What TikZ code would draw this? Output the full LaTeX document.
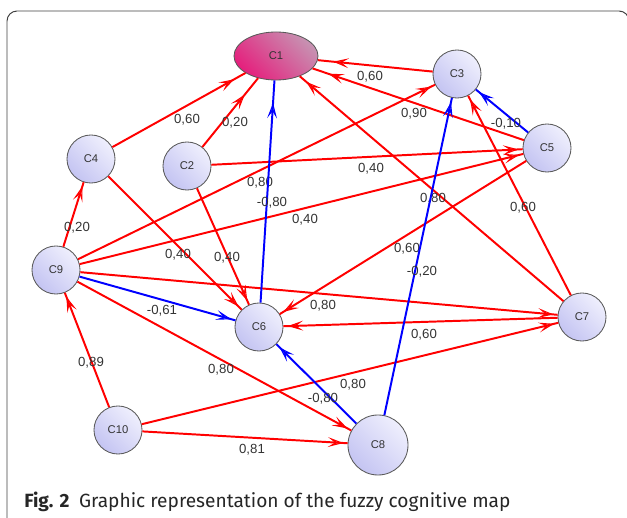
\documentclass[tikz,border=0pt]{standalone}
\usepackage{fontspec}
\setmainfont{Liberation Sans}
\newfontfamily\capfont{Fira Sans}
\usepackage{xcolor}
\usetikzlibrary{arrows.meta,shapes.geometric,decorations.markings}

\definecolor{nodelo}{HTML}{C4C4F2}
\definecolor{nodehi}{HTML}{EFEFFD}
\definecolor{hublo}{HTML}{E5207D}
\definecolor{hubhi}{HTML}{C792B2}
\definecolor{fcmred}{HTML}{FF0000}
\definecolor{fcmblue}{HTML}{0000FF}

\tikzset{
  fcmtip/.tip={Stealth[open,length=11pt,width=7pt,inset=5pt,line width=0.8pt]},
  concept/.style={circle,draw=black!65,line width=0.6pt,minimum size=1.2cm,inner sep=0pt,
    top color=nodehi,bottom color=nodelo,shading angle=-45,
    text=black!80,font=\fontsize{8}{9}\selectfont},
  hub/.style={ellipse,draw=black!65,line width=0.6pt,minimum width=2.1cm,minimum height=1.2cm,
    inner sep=0pt,top color=hubhi,bottom color=hublo,shading angle=-45,
    text=black!80,font=\fontsize{8}{9}\selectfont},
  link/.style={line width=1.4pt,postaction={decorate},
    decoration={markings,mark=at position -#1pt with {\arrow{fcmtip}}}},
  weight/.style={text=black!80,inner sep=0pt,font=\fontsize{9.4}{11}\selectfont},
}

\begin{document}
\begin{tikzpicture}[x=0.025cm,y=-0.025cm]
\useasboundingbox (0,0) rectangle (627,518);
\draw[black!75,line width=0.7pt,rounded corners=0.25cm](7,560)--(7,11)--(629,11)--(629,560);

% concepts
\node[hub] (c1) at (276,56) {C1};
\node[concept] (c2) at (187,166) {C2};
\node[concept] (c3) at (457,74) {C3};
\node[concept] (c4) at (91,159) {C4};
\node[concept] (c5) at (547,148) {C5};
\node[concept] (c6) at (259,327) {C6};
\node[concept] (c7) at (582,317) {C7};
\node[concept,minimum size=1.5cm] (c8) at (378,445) {C8};
\node[concept] (c9) at (56,270) {C9};
\node[concept] (c10) at (118,430) {C10};

% positive links
\foreach \s/\t/\w/\lx/\ly/\o in {
  c4/c1/{0,60}/187/120/9, c2/c1/{0,20}/235/123/15, c3/c1/{0,60}/370/77/11,
  c5/c1/{0,90}/414/114/12, c7/c1/{0,80}/433/199/6, c9/c3/{0,80}/260/183/3,
  c7/c3/{0,60}/523/208/3, c2/c5/{0,40}/371/169/3, c9/c5/{0,40}/305/220/3,
  c9/c4/{0,20}/77/228/3, c4/c6/{0,40}/178/255/3, c2/c6/{0,40}/227/258/3,
  c5/c6/{0,60}/407/249/3, c7/c6/{0,60}/424/335/3, c9/c7/{0,80}/323/306/3,
  c10/c7/{0,80}/353/385/3, c10/c9/{0,89}/91/363/3, c9/c8/{0,80}/221/370/3,
  c10/c8/{0,81}/252/450/3}{
  \draw[link=\o,fcmred] (\s) -- (\t);
  \node[weight] (w-\s-\t) at (\lx,\ly) {\w};
}

% negative links
\foreach \s/\t/\w/\lx/\ly/\o in {
  c6/c1/{-0,80}/272/203/16, c5/c3/{-0,10}/506/124/3, c8/c3/{-0,20}/422/272/3,
  c9/c6/{-0,61}/162/311/3, c8/c6/{-0,80}/323/399/3}{
  \draw[link=\o,fcmblue] (\s) -- (\t);
  \node[weight] (w-\s-\t) at (\lx,\ly) {\w};
}

\node[anchor=base west,inner sep=0pt,text=black!85,font=\capfont\fontsize{13.6}{16}\selectfont]
  (caption) at (24,507) {\textbf{Fig. 2}\hspace{0.5em}Graphic representation of the fuzzy cognitive map};
\end{tikzpicture}
\end{document}
